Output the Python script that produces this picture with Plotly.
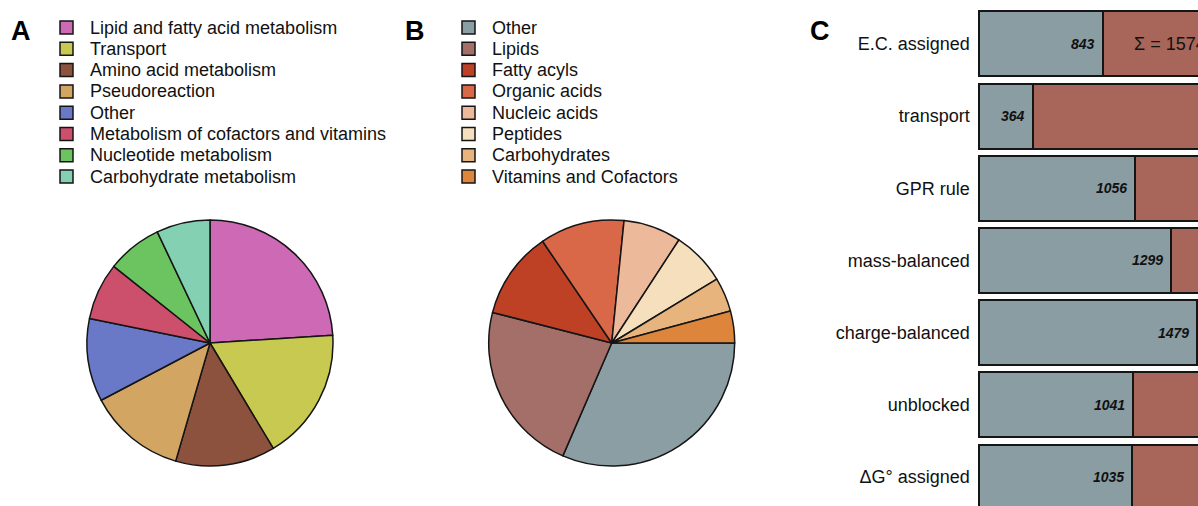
import plotly.graph_objects as go

FONT = "Arial, Liberation Sans, sans-serif"
W, H = 1198, 506

# Panel A: reactions by subsystem (share, %)
subsystems = ["Lipid and fatty acid metabolism", "Transport", "Amino acid metabolism",
              "Pseudoreaction", "Other", "Metabolism of cofactors and vitamins",
              "Nucleotide metabolism", "Carbohydrate metabolism"]
subsystem_share = [24.0, 17.4, 13.1, 12.8, 10.9, 7.5, 7.25, 7.05]
subsystem_colors = ["#CE69B6", "#C8C950", "#8C523E", "#D3A563",
                    "#6A78C8", "#CC4F6B", "#6CC460", "#83D0B3"]

# Panel B: metabolites by class (share, %)
classes = ["Other", "Lipids", "Fatty acyls", "Organic acids", "Nucleic acids",
           "Peptides", "Carbohydrates", "Vitamins and Cofactors"]
class_share = [31.5, 22.5, 11.5, 11.1, 7.6, 7.1, 4.5, 4.2]
class_colors = ["#8A9EA4", "#A46F68", "#BE4126", "#D96849",
                "#ECB99B", "#F5DFBC", "#E8B47E", "#DD863B"]

# Panel C: reaction annotation coverage
criteria = ["E.C. assigned", "transport", "GPR rule", "mass-balanced",
            "charge-balanced", "unblocked", "\u0394G\u00b0 assigned"]
n_with = [843, 364, 1056, 1299, 1479, 1041, 1035]
TOTAL = 1574
n_without = [TOTAL - v for v in n_with]

GREY = "#8A9DA3"
RED = "#A8665A"
EDGE = "#151515"


def px_x(p):
    return p / W


def px_y(p):
    return 1 - p / H


fig = go.Figure()

fig.add_trace(go.Pie(
    labels=subsystems, values=subsystem_share, sort=False,
    direction="clockwise", rotation=0,
    marker=dict(colors=subsystem_colors, line=dict(color=EDGE, width=1.5)),
    textinfo="none", hoverinfo="label+percent", showlegend=False,
    domain=dict(x=[px_x(87), px_x(333)], y=[px_y(466), px_y(220)]),
))

fig.add_trace(go.Pie(
    labels=classes, values=class_share, sort=False,
    direction="clockwise", rotation=90,
    marker=dict(colors=class_colors, line=dict(color=EDGE, width=1.5)),
    textinfo="none", hoverinfo="label+percent", showlegend=False,
    domain=dict(x=[px_x(488.7), px_x(734.7)], y=[px_y(466), px_y(220)]),
))

fig.add_trace(go.Bar(
    y=criteria, x=n_with, orientation="h", width=0.9,
    marker=dict(color=GREY, line=dict(color=EDGE, width=2)),
    showlegend=False, hoverinfo="x+y",
))
fig.add_trace(go.Bar(
    y=criteria, x=n_without, orientation="h", width=0.9,
    marker=dict(color=RED, line=dict(color=EDGE, width=2)),
    showlegend=False, hoverinfo="x+y",
))

annotations = []
shapes = []

# value labels at the end of each grey segment
for c, v in zip(criteria, n_with):
    annotations.append(dict(
        x=v, y=c, xref="x", yref="y", text=str(v), showarrow=False,
        xanchor="right", xshift=-6,
        font=dict(family=FONT, size=14, color="#111", weight="bold", style="italic"),
    ))
annotations.append(dict(
    x=1040, y=criteria[0], xref="x", yref="y", text="\u03a3 = " + str(TOTAL),
    showarrow=False, xanchor="left",
    font=dict(family=FONT, size=18, color="#111"),
))

# panel letters
for letter, px in [("A", 9), ("B", 403), ("C", 808)]:
    annotations.append(dict(
        x=px_x(px), y=px_y(31), xref="paper", yref="paper", text="<b>" + letter + "</b>",
        showarrow=False, xanchor="left", yanchor="middle",
        font=dict(family=FONT, size=27, color="#000"),
    ))

# key boxes for the two pies
ROW0, ROW_STEP, BOX = 27.5, 21.3, 13


def add_key(labels, colors, box_left, text_left):
    for i, (lab, col) in enumerate(zip(labels, colors)):
        yc = ROW0 + i * ROW_STEP
        shapes.append(dict(
            type="rect", xref="paper", yref="paper",
            x0=px_x(box_left), x1=px_x(box_left + BOX),
            y0=px_y(yc + BOX / 2), y1=px_y(yc - BOX / 2),
            fillcolor=col, line=dict(color=EDGE, width=1.5),
        ))
        annotations.append(dict(
            x=px_x(text_left), y=px_y(yc), xref="paper", yref="paper",
            text=lab, showarrow=False, xanchor="left", yanchor="middle",
            font=dict(family=FONT, size=18, color="#111"),
        ))


add_key(subsystems, subsystem_colors, 60, 88)
add_key(classes, class_colors, 462, 490)

fig.update_layout(
    width=W, height=H,
    margin=dict(l=0, r=0, t=0, b=0),
    paper_bgcolor="white", plot_bgcolor="white",
    barmode="stack", bargap=0.1,
    showlegend=False,
    xaxis=dict(domain=[px_x(976.8), 1.0], range=[-15, 1485], visible=False,
               fixedrange=True),
    yaxis=dict(domain=[0, 1], range=[6.401, -0.607], type="category",
               categoryorder="array", categoryarray=criteria,
               showgrid=False, zeroline=False, showline=False, ticks="",
               ticklabelstandoff=6,
               tickfont=dict(family=FONT, size=18, color="#111"),
               fixedrange=True),
    annotations=annotations,
    shapes=shapes,
    hovermode="closest",
)

fig.write_html("out.html")
